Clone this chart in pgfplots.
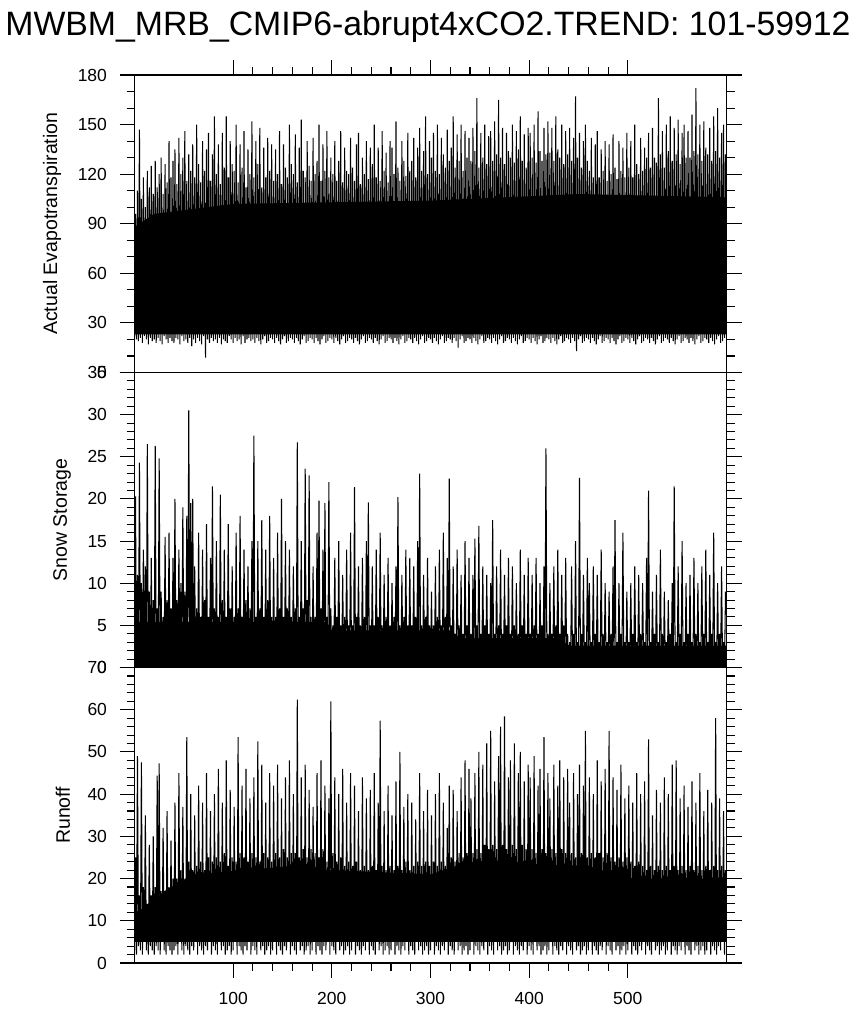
\documentclass[border=0pt]{standalone}
\usepackage{pgfplots}
\pgfplotsset{compat=1.18}
\usepackage{fontspec}
\setmainfont{Liberation Sans}
\pgfplotsset{
  panel/.style={
    scale only axis, width=592pt, xmin=0, xmax=600,
    axis on top,
    /pgf/number format/assume math mode=true,
    axis line style={line width=1.2pt, black},
    every tick/.style={line width=1.1pt, black},
    tick align=outside,
    major tick length=15pt, minor tick length=8pt,
    xtick={100,200,300,400,500}, minor x tick num=4,
    yticklabel pos=left, ytick pos=both,
    ticklabel style={font=\fontsize{17.5}{20}\selectfont},
    yticklabel style={xshift=-9pt},
    label style={font=\fontsize{19.5}{22}\selectfont},
    cycle list={{black, mark=none, line width=1.05pt}},
  },
  zig/.style={black, mark=none, line width=1.05pt, line join=bevel},
  core/.style={fill=black, draw=none, mark=none, forget plot},
}
\begin{document}
\begin{tikzpicture}
\useasboundingbox (0,0) rectangle (861pt,-1016pt);
\node[anchor=base, inner sep=0pt, font=\fontsize{33.8}{40}\selectfont] at (428pt,-36pt) {MWBM\_MRB\_CMIP6-abrupt4xCO2.TREND: 101-59912};
% Panel 1: Actual Evapotranspiration
\begin{axis}[panel, anchor=north west, at={(134.5pt,-75pt)}, height=297.5pt,
  ymin=0, ymax=180, ytick={0,30,...,180}, minor y tick num=2,
  xtick pos=right, xticklabels={},
  ylabel={Actual Evapotranspiration},
  ylabel style={at={(axis description cs:-0.1394,0.5)}, anchor=center}]
\addplot[core] coordinates {(0,23) (600,23) (600,106) (450,108) (300,104) (100,102) (20,96) (0,88)};
\addplot[zig] table[header=false, row sep=\\, x expr=\coordindex, y index=0] {
22\\96\\20\\110\\19\\147\\21\\105\\18\\118\\22\\100\\20\\122\\17\\112\\21\\125\\19\\108\\
20\\128\\18\\112\\21\\120\\19\\130\\17\\108\\22\\126\\20\\115\\18\\140\\21\\118\\19\\128\\
18\\135\\21\\114\\20\\142\\17\\120\\22\\130\\19\\146\\20\\116\\18\\132\\21\\122\\16\\138\\
20\\118\\18\\150\\21\\126\\19\\115\\17\\140\\22\\122\\9\\135\\20\\145\\18\\116\\21\\132\\
19\\155\\20\\120\\18\\138\\21\\114\\17\\145\\20\\124\\19\\155\\18\\118\\22\\140\\20\\126\\
18\\122\\21\\150\\19\\115\\20\\138\\17\\124\\22\\146\\18\\112\\20\\135\\21\\120\\19\\152\\
20\\118\\18\\140\\21\\126\\19\\148\\17\\112\\20\\136\\22\\118\\18\\142\\19\\122\\21\\138\\
20\\116\\18\\135\\21\\120\\19\\146\\17\\114\\20\\138\\22\\124\\18\\118\\19\\150\\21\\126\\
20\\120\\18\\144\\21\\115\\19\\136\\17\\153\\20\\122\\22\\118\\18\\140\\19\\125\\21\\116\\
20\\142\\18\\120\\21\\128\\19\\150\\17\\116\\20\\138\\22\\122\\18\\146\\19\\118\\21\\130\\
20\\120\\18\\140\\21\\116\\19\\128\\17\\146\\20\\115\\22\\136\\18\\122\\19\\120\\21\\142\\
20\\124\\18\\116\\21\\138\\19\\145\\17\\114\\20\\130\\22\\120\\18\\140\\19\\117\\21\\136\\
20\\126\\18\\150\\21\\118\\19\\136\\17\\116\\20\\146\\22\\122\\18\\133\\19\\115\\21\\140\\
20\\136\\18\\120\\21\\152\\19\\124\\17\\116\\20\\140\\22\\128\\18\\119\\19\\145\\21\\122\\
20\\128\\18\\142\\21\\118\\19\\136\\17\\148\\20\\122\\22\\134\\18\\155\\19\\120\\21\\140\\
20\\130\\18\\145\\21\\122\\19\\150\\17\\120\\20\\142\\22\\132\\18\\124\\19\\147\\21\\128\\
20\\136\\18\\155\\21\\124\\19\\144\\15\\128\\20\\150\\22\\122\\18\\146\\19\\130\\21\\142\\
20\\128\\18\\148\\21\\134\\19\\166\\17\\124\\20\\145\\22\\130\\18\\150\\19\\126\\21\\143\\
20\\146\\18\\128\\21\\152\\19\\132\\17\\165\\20\\130\\22\\148\\18\\126\\19\\145\\21\\134\\
20\\130\\18\\150\\21\\127\\19\\146\\17\\135\\20\\155\\22\\128\\18\\144\\19\\124\\21\\148\\
20\\145\\18\\130\\21\\150\\19\\127\\17\\158\\20\\134\\22\\128\\18\\148\\19\\132\\21\\152\\
20\\133\\18\\148\\21\\128\\19\\155\\17\\135\\20\\130\\22\\150\\18\\126\\19\\146\\21\\132\\
20\\148\\18\\128\\21\\142\\19\\167\\13\\130\\20\\145\\22\\124\\18\\140\\19\\150\\21\\128\\
20\\122\\18\\142\\21\\118\\19\\138\\17\\146\\20\\118\\22\\135\\18\\122\\19\\140\\21\\116\\
20\\138\\18\\120\\21\\144\\19\\124\\17\\117\\20\\140\\22\\122\\18\\136\\19\\118\\21\\145\\
20\\124\\18\\140\\21\\118\\19\\150\\17\\126\\20\\120\\22\\142\\18\\122\\19\\136\\21\\130\\
20\\145\\18\\124\\21\\148\\19\\130\\17\\127\\20\\166\\22\\132\\18\\146\\19\\124\\21\\150\\
20\\134\\18\\155\\21\\128\\19\\148\\17\\132\\20\\153\\22\\126\\18\\145\\19\\150\\21\\130\\
20\\146\\18\\130\\21\\156\\19\\134\\17\\172\\20\\132\\22\\150\\18\\128\\19\\152\\21\\136\\
20\\132\\18\\148\\21\\128\\19\\155\\17\\134\\20\\160\\22\\130\\18\\145\\19\\150\\21\\132\\
};
\end{axis}
% Panel 2: Snow Storage
\begin{axis}[panel, anchor=north west, at={(134.5pt,-372.5pt)}, height=295pt,
  ymin=0, ymax=35, ytick={0,5,...,35}, minor y tick num=4,
  xtick=\empty,
  ylabel={Snow Storage},
  ylabel style={at={(axis description cs:-0.1225,0.5)}, anchor=center}]
\addplot[core] coordinates {(0,0) (600,0) (600,2.6) (440,2.6) (430,3.5) (330,3.5) (320,4.4) (200,4.4) (195,5.4) (0,5.4)};
\addplot[zig] table[header=false, row sep=\\, x expr=\coordindex, y index=0] {
0\\20.3\\0\\11\\0\\24.3\\0\\10\\0\\14\\0\\12\\0\\26.5\\0\\9\\0\\13\\0\\8\\
0\\26.3\\0\\7\\0\\24.8\\0\\9\\0\\6\\0\\15.5\\0\\8\\0\\16\\0\\7\\0\\13\\
0\\20\\0\\8\\0\\14\\0\\10\\0\\19\\0\\9\\0\\18\\0\\30.5\\0\\19.5\\0\\20\\
0\\12\\0\\7\\0\\16\\0\\6\\0\\14\\0\\8\\0\\17\\0\\6\\0\\13\\0\\21.5\\
0\\7\\0\\15\\0\\6\\0\\20.5\\0\\8\\0\\14\\0\\6\\0\\17\\0\\7\\0\\12\\
0\\6\\0\\16\\0\\7\\0\\18\\0\\6\\0\\14\\0\\8\\0\\12\\0\\7\\0\\15\\
0\\27.5\\0\\6\\0\\15\\0\\7\\0\\17.5\\0\\6\\0\\14\\0\\8\\0\\18\\0\\6\\
0\\13\\0\\6\\0\\16\\0\\7\\0\\20\\0\\6\\0\\15\\0\\7\\0\\14\\0\\6\\
0\\12\\0\\7\\0\\26.7\\0\\6\\0\\15\\0\\7\\0\\23.6\\0\\8\\0\\22.8\\0\\6\\
0\\12\\0\\6\\0\\16\\0\\19.8\\0\\7\\0\\14\\0\\19.5\\0\\6\\0\\22\\0\\7\\
0\\5\\0\\13\\0\\6\\0\\15\\0\\5\\0\\11\\0\\6\\0\\14\\0\\5\\0\\16\\
0\\5\\0\\21.4\\0\\6\\0\\12\\0\\5\\0\\13\\0\\6\\0\\15\\0\\19.6\\0\\5\\
0\\12\\0\\5\\0\\14\\0\\6\\0\\16\\0\\5\\0\\11\\0\\6\\0\\13\\0\\5\\
0\\10\\0\\6\\0\\12\\0\\20.2\\0\\5\\0\\11\\0\\6\\0\\14\\0\\5\\0\\13\\
0\\5\\0\\12\\0\\6\\0\\15\\0\\23\\0\\5\\0\\11\\0\\6\\0\\13\\0\\5\\
0\\9\\0\\5\\0\\12\\0\\6\\0\\14\\0\\5\\0\\16\\0\\6\\0\\13\\0\\22.4\\
0\\5\\0\\12\\0\\4\\0\\14\\0\\5\\0\\11\\0\\4\\0\\15\\0\\5\\0\\13\\
0\\4\\0\\11\\0\\15.3\\0\\5\\0\\16.8\\0\\4\\0\\12\\0\\5\\0\\11\\0\\4\\
0\\10\\0\\17.5\\0\\4\\0\\12\\0\\5\\0\\14\\0\\4\\0\\11\\0\\5\\0\\13\\
0\\4\\0\\12\\0\\5\\0\\10\\0\\4\\0\\14\\0\\5\\0\\11\\0\\4\\0\\13\\
0\\4\\0\\11\\0\\5\\0\\13\\0\\4\\0\\10\\0\\5\\0\\12\\0\\26\\0\\4\\
0\\10\\0\\4\\0\\12\\0\\5\\0\\14\\0\\4\\0\\11\\0\\5\\0\\13\\0\\4\\
0\\3\\0\\12\\0\\4\\0\\15\\0\\3\\0\\22.5\\0\\4\\0\\11\\0\\3\\0\\13\\
0\\10\\0\\3\\0\\12\\0\\4\\0\\11\\0\\3\\0\\14\\0\\4\\0\\10\\0\\3\\
0\\9\\0\\4\\0\\12\\0\\17.5\\0\\3\\0\\10\\0\\4\\0\\16\\0\\3\\0\\9\\
0\\3\\0\\10\\0\\4\\0\\12\\0\\3\\0\\11\\0\\4\\0\\10\\0\\3\\0\\13\\
0\\21\\0\\3\\0\\9\\0\\4\\0\\11\\0\\3\\0\\14\\0\\4\\0\\9\\0\\3\\
0\\8\\0\\4\\0\\10\\0\\21.5\\0\\3\\0\\12\\0\\4\\0\\15\\0\\3\\0\\10\\
0\\4\\0\\11\\0\\3\\0\\13\\0\\4\\0\\10\\0\\3\\0\\12\\0\\4\\0\\14\\
0\\3\\0\\11\\0\\4\\0\\16\\0\\3\\0\\10\\0\\4\\0\\12\\0\\3\\0\\9\\
};
\end{axis}
% Panel 3: Runoff
\begin{axis}[panel, anchor=north west, at={(134.5pt,-667.5pt)}, height=295.5pt,
  ymin=0, ymax=70, ytick={0,10,...,70}, minor y tick num=4,
  xtick pos=left,
  xticklabel style={yshift=-11pt},
  ylabel={Runoff},
  ylabel style={at={(axis description cs:-0.1208,0.5)}, anchor=center}]
\addplot[core] coordinates {(0,5) (600,5) (600,20) (500,20) (460,23) (340,24) (300,21) (200,22) (160,23) (60,21) (30,17) (10,13) (0,12)};
\addplot[zig] table[header=false, row sep=\\, x expr=\coordindex, y index=0] {
3\\25\\2\\49\\4\\16\\3\\47.5\\2\\18\\5\\35\\3\\14\\2\\28\\4\\16\\3\\30\\
2\\18\\4\\44.4\\3\\47.3\\2\\17\\5\\32\\3\\15\\2\\36\\4\\18\\3\\29\\2\\20\\
3\\38\\4\\20\\2\\45\\5\\22\\3\\37\\2\\20\\4\\53.5\\3\\24\\2\\40\\4\\22\\
3\\35\\5\\23\\2\\42\\4\\24\\3\\38\\2\\22\\4\\45\\3\\25\\5\\36\\2\\24\\
4\\40\\3\\25\\2\\46\\5\\24\\3\\38\\4\\26\\2\\48\\3\\23\\4\\41\\2\\25\\
3\\37\\5\\24\\2\\53.5\\4\\26\\3\\42\\2\\25\\4\\46\\3\\24\\5\\39\\2\\26\\
4\\44\\3\\25\\2\\52.5\\5\\24\\3\\47\\4\\26\\2\\38\\3\\25\\4\\45\\2\\24\\
3\\42\\5\\26\\2\\47\\4\\25\\3\\39\\2\\27\\4\\44\\3\\25\\5\\48\\2\\26\\
4\\40\\3\\26\\2\\62.4\\5\\25\\3\\44\\4\\27\\2\\47\\3\\25\\4\\41\\2\\27\\
3\\37\\5\\26\\2\\45\\4\\25\\3\\48\\2\\27\\4\\42\\3\\24\\5\\39\\2\\62\\
4\\26\\3\\44\\2\\24\\5\\40\\3\\25\\4\\46\\2\\23\\3\\38\\4\\24\\2\\45\\
3\\23\\5\\42\\2\\24\\4\\36\\3\\22\\2\\44\\4\\23\\3\\39\\5\\22\\2\\41\\
4\\23\\3\\45\\2\\22\\5\\38\\3\\57.4\\4\\23\\2\\36\\3\\22\\4\\42\\2\\23\\
3\\35\\5\\22\\2\\43\\4\\23\\3\\50\\2\\22\\4\\37\\3\\24\\5\\40\\2\\22\\
4\\38\\3\\23\\2\\34\\5\\24\\3\\45\\4\\23\\2\\36\\3\\24\\4\\41\\2\\23\\
3\\35\\5\\24\\2\\40\\4\\23\\3\\45\\2\\24\\4\\38\\3\\23\\5\\32\\2\\42\\
4\\25\\3\\41\\2\\24\\5\\36\\3\\26\\4\\44\\2\\25\\3\\48\\4\\26\\2\\46\\
3\\39\\5\\26\\2\\45\\4\\27\\3\\50\\2\\26\\4\\47\\3\\28\\5\\52\\2\\27\\
4\\55\\3\\28\\2\\43\\5\\27\\3\\49\\4\\56\\2\\28\\3\\58.4\\4\\27\\2\\44\\
3\\48\\5\\28\\2\\52\\4\\27\\3\\45\\2\\50\\4\\28\\3\\43\\5\\27\\2\\47\\
4\\44\\3\\27\\2\\49\\5\\26\\3\\42\\4\\46\\2\\27\\3\\53.5\\4\\26\\2\\45\\
3\\39\\5\\27\\2\\47\\4\\26\\3\\42\\2\\48\\4\\27\\3\\44\\5\\26\\2\\46\\
4\\38\\3\\26\\2\\45\\5\\25\\3\\40\\4\\47\\2\\26\\3\\42\\4\\55\\2\\25\\
3\\44\\5\\26\\2\\40\\4\\25\\3\\48\\2\\26\\4\\43\\3\\25\\5\\46\\2\\26\\
4\\55\\3\\25\\2\\44\\5\\24\\3\\41\\4\\25\\2\\47\\3\\24\\4\\39\\2\\25\\
3\\42\\5\\24\\2\\38\\4\\23\\3\\45\\2\\24\\4\\40\\3\\23\\5\\43\\2\\22\\
4\\53\\3\\23\\2\\35\\5\\22\\3\\41\\4\\23\\2\\38\\3\\22\\4\\44\\2\\23\\
3\\40\\5\\22\\2\\47\\4\\23\\3\\48\\2\\22\\4\\39\\3\\23\\5\\42\\2\\22\\
4\\37\\3\\23\\2\\43\\5\\22\\3\\38\\4\\23\\2\\45\\3\\22\\4\\36\\2\\23\\
3\\41\\5\\22\\2\\38\\4\\23\\3\\58\\2\\22\\4\\39\\3\\23\\5\\36\\2\\22\\
};
\end{axis}
\end{tikzpicture}
\end{document}
